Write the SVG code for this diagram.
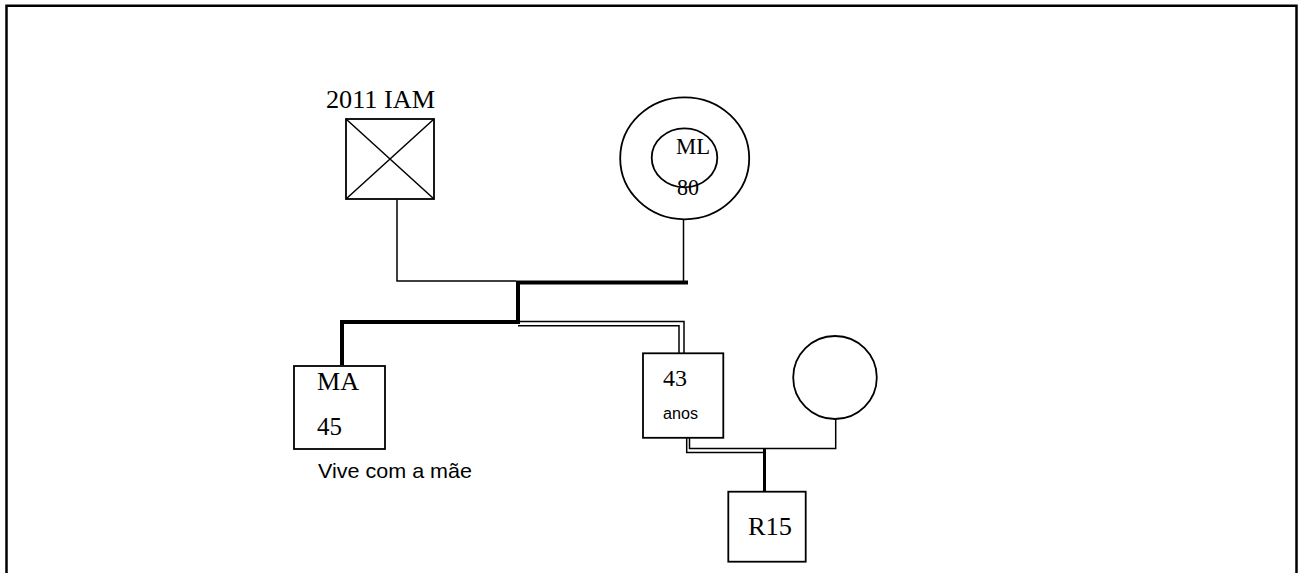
<svg xmlns="http://www.w3.org/2000/svg" width="1301" height="573" viewBox="0 0 1301 573">
<style>
.box{fill:#fff;stroke:#000;stroke-width:1.8}
.ln{fill:none;stroke:#000;stroke-width:1.5}
.thick{fill:none;stroke:#000;stroke-width:4}
.tr{font-family:"Liberation Serif",serif;fill:#000}
.ar{font-family:"Liberation Sans",sans-serif;fill:#000}
</style>
<rect width="1301" height="573" fill="#fff"/>
<path d="M6.5,580 V5.8 H1296.5 V580" fill="none" stroke="#000" stroke-width="2.5"/>
<g id="connectors">
<path class="ln" d="M397,199.5 V281 H516"/>
<path class="ln" d="M683.5,204 V281"/>
<path class="thick" d="M342,365 V322 H518 V282.5 H688"/>
<path class="ln" d="M518,321.5 H684 V353"/>
<path class="ln" d="M518,325.8 H679 V353"/>
<path class="ln" d="M835.7,419 V448.5 H689.5 V438"/>
<path class="ln" d="M686.7,438 V452.6 H764"/>
<path d="M764.5,448.5 V492" fill="none" stroke="#000" stroke-width="3"/>
</g>
<g id="node-iam">
<text class="tr" x="326" y="108" font-size="25" textLength="109" lengthAdjust="spacingAndGlyphs">2011 IAM</text>
<rect class="box" x="346" y="119" width="88" height="80"/>
<path class="ln" d="M346,119 L434,199 M434,119 L346,199"/>
</g>
<g id="node-ml">
<ellipse class="box" cx="684.7" cy="158.3" rx="64.5" ry="61"/>
<ellipse class="box" cx="684.5" cy="157.8" rx="32.8" ry="29.5"/>
<text class="tr" x="676" y="154" font-size="24" textLength="34" lengthAdjust="spacingAndGlyphs">ML</text>
<text class="tr" x="677" y="195" font-size="23" textLength="22" lengthAdjust="spacingAndGlyphs">80</text>
</g>
<g id="node-ma">
<rect class="box" x="294" y="366" width="91" height="83"/>
<text class="tr" x="317" y="389.5" font-size="25" textLength="42" lengthAdjust="spacingAndGlyphs">MA</text>
<text class="tr" x="317" y="435" font-size="25" textLength="25" lengthAdjust="spacingAndGlyphs">45</text>
<text class="ar" x="318" y="478" font-size="21" textLength="154" lengthAdjust="spacingAndGlyphs">Vive com a mãe</text>
</g>
<g id="node-43">
<rect class="box" x="643" y="353.3" width="80.3" height="84.5"/>
<text class="tr" x="663" y="386" font-size="23" textLength="24" lengthAdjust="spacingAndGlyphs">43</text>
<text class="ar" x="663" y="419" font-size="16" textLength="35" lengthAdjust="spacingAndGlyphs">anos</text>
</g>
<g id="node-wife">
<ellipse class="box" cx="835" cy="377.5" rx="41.8" ry="41.5"/>
</g>
<g id="node-r15">
<rect class="box" x="728.3" y="491.7" width="77.4" height="70"/>
<text class="tr" x="748" y="535" font-size="26" textLength="44" lengthAdjust="spacingAndGlyphs">R15</text>
</g>
</svg>
